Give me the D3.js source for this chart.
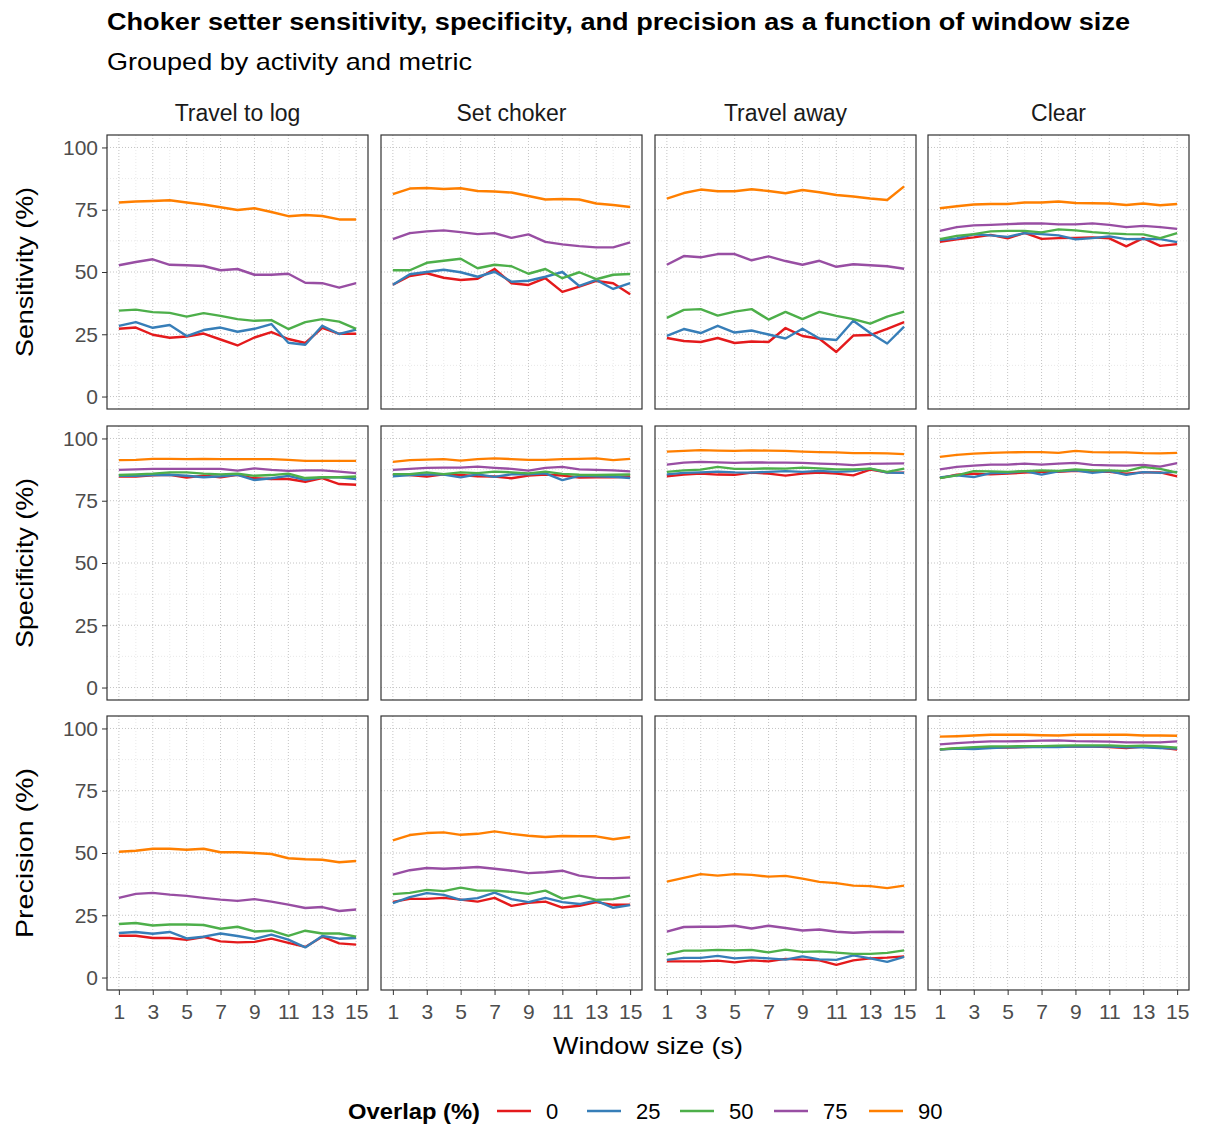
<!DOCTYPE html>
<html>
<head>
<meta charset="utf-8">
<script src="https://cdn.jsdelivr.net/npm/d3@7"></script>
<style>
  body { margin: 0; background: #fff; }
  text { font-family: "Liberation Sans", Arial, sans-serif; }
</style>
</head>
<body>
<script>
// window sizes and groups
var windows = [1, 2, 3, 4, 5, 6, 7, 8, 9, 10, 11, 12, 13, 14, 15];
var overlaps = ["0", "25", "50", "75", "90"];
var colors = ["#E41A1C", "#377EB8", "#4DAF4A", "#984EA3", "#FF7F00"];
var activities = ["Travel to log", "Set choker", "Travel away", "Clear"];
var metrics = ["Sensitivity (%)", "Specificity (%)", "Precision (%)"];
var xTicks = [1, 3, 5, 7, 9, 11, 13, 15];
var yTicks = [0, 25, 50, 75, 100];

// one row per overlap (0, 25, 50, 75, 90)
var sensTravelToLog = [
  [27.2, 27.7, 24.8, 23.6, 24.1, 25.3, 22.9, 20.5, 23.7, 25.9, 23.1, 21.5, 27.6, 25.2, 25.2],
  [28.4, 29.9, 27.6, 28.7, 24.3, 26.7, 27.7, 26.0, 27.2, 29.1, 21.6, 20.8, 28.4, 25.1, 26.9],
  [34.5, 34.9, 33.9, 33.6, 32.1, 33.5, 32.4, 31.1, 30.4, 30.7, 27.1, 29.9, 31.1, 30.1, 27.2],
  [52.7, 54.0, 55.1, 52.9, 52.7, 52.4, 50.7, 51.2, 48.9, 48.9, 49.3, 45.7, 45.5, 43.7, 45.5],
  [77.9, 78.3, 78.5, 78.8, 77.9, 77.1, 76.0, 74.9, 75.6, 74.1, 72.4, 72.9, 72.5, 71.1, 71.1]
];
var sensSetChoker = [
  [44.9, 48.4, 49.5, 47.7, 46.8, 47.3, 51.2, 45.5, 44.8, 47.5, 42.0, 44.1, 46.4, 45.5, 41.1],
  [44.9, 49.1, 50.0, 50.9, 49.9, 48.1, 50.1, 46.1, 46.5, 48.1, 50.0, 44.4, 46.8, 43.2, 45.5],
  [50.7, 50.7, 53.7, 54.5, 55.3, 51.5, 52.9, 52.3, 49.3, 51.2, 47.5, 49.9, 47.1, 48.9, 49.2],
  [63.2, 65.6, 66.3, 66.7, 66.0, 65.2, 65.6, 63.7, 65.1, 62.1, 61.1, 60.4, 59.9, 59.9, 61.9],
  [81.3, 83.5, 83.7, 83.3, 83.6, 82.5, 82.3, 81.9, 80.5, 79.1, 79.3, 79.1, 77.5, 76.9, 76.1]
];
var sensTravelAway = [
  [23.5, 22.3, 21.9, 23.5, 21.5, 22.1, 21.9, 27.5, 24.3, 23.2, 17.9, 24.5, 24.7, 27.2, 29.9],
  [24.4, 27.1, 25.5, 28.4, 25.7, 26.5, 24.9, 23.3, 27.2, 23.3, 22.7, 30.4, 25.5, 21.3, 28.1],
  [31.6, 34.8, 35.1, 32.5, 34.1, 35.1, 30.9, 34.0, 31.1, 34.0, 32.4, 31.1, 29.3, 32.1, 34.1],
  [52.9, 56.4, 55.9, 57.2, 57.2, 54.7, 56.3, 54.4, 52.9, 54.5, 52.1, 53.1, 52.7, 52.3, 51.3],
  [79.5, 81.7, 83.1, 82.4, 82.4, 83.2, 82.5, 81.6, 82.9, 82.0, 80.9, 80.3, 79.5, 78.9, 84.4]
];
var sensClear = [
  [62.1, 63.1, 63.9, 64.9, 63.5, 65.7, 63.3, 63.6, 63.7, 63.9, 63.5, 60.3, 63.6, 60.5, 61.2],
  [62.8, 63.5, 65.1, 64.7, 64.1, 65.6, 65.2, 64.7, 63.1, 63.6, 64.3, 63.2, 63.3, 63.2, 62.0],
  [63.2, 64.5, 65.2, 66.3, 66.5, 66.5, 65.9, 67.1, 66.7, 66.0, 65.5, 65.2, 65.1, 63.6, 65.6],
  [66.5, 68.0, 68.7, 68.9, 69.2, 69.5, 69.5, 69.1, 69.1, 69.5, 68.9, 68.0, 68.5, 68.0, 67.3],
  [75.6, 76.4, 77.1, 77.3, 77.3, 77.9, 77.9, 78.3, 77.7, 77.6, 77.5, 76.9, 77.5, 76.8, 77.3]
];

var specTravelToLog = [
  [84.7, 84.7, 85.2, 85.4, 84.3, 85.1, 84.4, 85.4, 84.0, 83.7, 83.7, 82.6, 84.1, 81.7, 81.4],
  [85.0, 85.0, 85.3, 85.4, 85.0, 84.4, 84.8, 85.4, 83.3, 84.0, 85.0, 83.4, 84.4, 84.4, 83.7],
  [85.3, 85.6, 85.9, 86.4, 86.4, 85.9, 85.6, 85.9, 85.0, 85.3, 85.9, 84.1, 84.4, 84.4, 84.7],
  [87.4, 87.6, 87.8, 87.8, 87.8, 87.8, 87.8, 87.1, 88.0, 87.4, 87.0, 87.2, 87.2, 86.7, 86.1],
  [91.3, 91.4, 91.8, 91.8, 91.7, 91.8, 91.7, 91.7, 91.7, 91.7, 91.4, 91.0, 91.0, 91.0, 91.0]
];
var specSetChoker = [
  [85.5, 85.3, 84.7, 85.6, 85.3, 84.8, 84.7, 84.0, 85.1, 85.5, 85.1, 84.3, 84.4, 84.4, 84.7],
  [84.8, 85.3, 85.5, 85.5, 84.4, 85.6, 84.6, 85.6, 85.6, 86.0, 83.3, 85.0, 84.8, 84.6, 84.1],
  [85.7, 85.7, 86.4, 85.7, 86.4, 86.1, 86.7, 86.4, 86.0, 86.7, 85.8, 85.4, 85.3, 85.4, 85.5],
  [87.4, 87.8, 88.2, 88.3, 88.3, 88.7, 88.2, 87.8, 87.1, 88.2, 88.6, 87.6, 87.4, 87.2, 86.8],
  [90.6, 91.3, 91.5, 91.7, 91.1, 91.7, 92.0, 91.7, 91.4, 91.4, 91.7, 91.8, 92.0, 91.3, 91.8]
];
var specTravelAway = [
  [84.8, 85.5, 85.9, 85.5, 85.4, 86.3, 85.9, 85.1, 85.9, 86.3, 85.9, 85.2, 87.5, 86.4, 86.3],
  [85.6, 86.2, 86.4, 86.7, 86.4, 86.3, 86.6, 86.9, 86.6, 87.0, 86.6, 86.9, 87.9, 86.3, 86.2],
  [86.6, 87.2, 87.5, 88.6, 87.8, 87.8, 88.0, 87.9, 88.3, 88.0, 87.6, 87.6, 87.9, 86.6, 87.9],
  [89.5, 90.3, 90.6, 90.4, 90.2, 90.4, 90.3, 90.3, 90.2, 89.9, 89.7, 89.3, 89.8, 89.9, 90.0],
  [94.7, 95.0, 95.3, 95.1, 95.0, 95.2, 95.1, 95.0, 94.7, 94.5, 94.4, 94.1, 94.1, 94.0, 93.7]
];
var specClear = [
  [84.1, 85.5, 85.9, 85.6, 85.9, 86.3, 86.6, 86.6, 87.0, 86.7, 86.6, 85.9, 86.4, 86.4, 84.8],
  [84.3, 85.2, 84.5, 86.1, 86.2, 86.9, 85.5, 86.8, 87.2, 86.2, 86.9, 85.4, 86.5, 86.2, 86.6],
  [84.1, 85.2, 86.9, 86.8, 86.6, 86.9, 87.2, 87.0, 87.6, 87.2, 87.2, 86.9, 88.6, 87.8, 86.3],
  [87.6, 88.6, 89.1, 89.5, 89.5, 89.9, 89.5, 89.9, 90.2, 89.4, 89.2, 89.1, 89.4, 88.7, 90.1],
  [92.6, 93.4, 93.9, 94.2, 94.4, 94.5, 94.5, 94.2, 95.0, 94.5, 94.4, 94.4, 94.1, 94.0, 94.2]
];

var precTravelToLog = [
  [16.8, 16.8, 15.9, 15.9, 15.1, 16.3, 14.5, 14.1, 14.3, 15.6, 13.9, 12.3, 16.4, 13.7, 13.2],
  [17.9, 18.3, 17.6, 18.3, 15.7, 16.4, 17.7, 16.7, 15.5, 17.2, 15.2, 12.1, 16.7, 15.6, 15.9],
  [21.5, 21.9, 20.9, 21.3, 21.3, 21.1, 19.6, 20.4, 18.5, 18.8, 16.7, 18.8, 17.7, 17.7, 16.4],
  [32.0, 33.6, 34.0, 33.3, 32.8, 32.0, 31.3, 30.8, 31.5, 30.5, 29.3, 27.9, 28.3, 26.7, 27.3],
  [50.5, 50.9, 51.7, 51.7, 51.3, 51.7, 50.3, 50.3, 50.0, 49.6, 47.9, 47.5, 47.3, 46.3, 46.8]
];
var precSetChoker = [
  [30.4, 31.6, 31.6, 32.0, 31.3, 30.5, 32.0, 28.8, 30.0, 30.5, 28.1, 28.8, 30.3, 29.2, 29.2],
  [29.9, 32.3, 33.9, 33.2, 31.2, 31.9, 34.1, 31.5, 30.3, 32.0, 30.3, 29.5, 30.9, 28.0, 29.1],
  [33.5, 34.0, 35.2, 34.7, 36.1, 34.9, 34.9, 34.4, 33.6, 34.9, 31.7, 32.9, 31.2, 31.5, 32.9],
  [41.3, 43.1, 44.0, 43.7, 44.0, 44.4, 43.7, 42.9, 41.9, 42.3, 42.9, 40.9, 40.0, 39.9, 40.1],
  [55.1, 57.2, 58.0, 58.3, 57.3, 57.7, 58.7, 57.7, 56.9, 56.4, 56.8, 56.7, 56.7, 55.5, 56.4]
];
var precTravelAway = [
  [6.5, 6.5, 6.5, 6.8, 6.1, 6.9, 6.5, 7.5, 7.2, 6.9, 5.1, 6.9, 7.7, 8.0, 8.5],
  [7.1, 7.9, 7.9, 8.7, 7.7, 8.1, 7.7, 7.2, 8.5, 7.3, 7.1, 8.9, 7.7, 6.3, 8.3],
  [9.3, 10.8, 10.8, 11.1, 10.9, 11.1, 10.1, 11.2, 10.3, 10.5, 10.0, 9.5, 9.5, 9.9, 10.9],
  [18.4, 20.3, 20.4, 20.4, 20.8, 19.7, 20.8, 19.9, 18.9, 19.3, 18.4, 18.0, 18.3, 18.4, 18.3],
  [38.5, 40.0, 41.5, 40.9, 41.5, 41.2, 40.5, 40.8, 39.7, 38.4, 37.9, 36.9, 36.7, 35.9, 36.9]
];
var precClear = [
  [91.6, 92.0, 92.1, 92.4, 92.3, 92.5, 92.7, 92.7, 92.8, 92.7, 92.5, 92.1, 92.7, 92.3, 91.5],
  [91.5, 91.9, 91.7, 92.1, 92.4, 92.5, 92.5, 92.5, 92.8, 92.7, 92.7, 92.4, 92.4, 92.1, 91.9],
  [91.6, 92.1, 92.5, 92.8, 92.8, 92.9, 92.9, 93.1, 93.2, 93.2, 93.2, 92.9, 93.1, 92.8, 92.3],
  [93.6, 94.1, 94.5, 94.8, 94.8, 94.9, 95.1, 95.2, 94.9, 94.8, 94.7, 94.4, 94.4, 94.4, 94.8],
  [96.7, 96.9, 97.2, 97.5, 97.5, 97.5, 97.3, 97.2, 97.5, 97.5, 97.5, 97.5, 97.2, 97.2, 97.1]
];

var panelData = [
  [sensTravelToLog, sensSetChoker, sensTravelAway, sensClear],
  [specTravelToLog, specSetChoker, specTravelAway, specClear],
  [precTravelToLog, precSetChoker, precTravelAway, precClear]
];

var W = 1206, H = 1124;
var svg = d3.select("body").append("svg")
    .attr("width", W)
    .attr("height", H);

var colX = [107, 381, 655, 928],
    rowY = [135, 426, 716],
    pw = 261,
    ph = 274;

var x = d3.scaleLinear().domain([0.3, 15.7]).range([0, pw]);
var y = d3.scaleLinear().domain([-5, 105]).range([ph, 0]);

var line = d3.line()
    .x(function (d, i) { return x(windows[i]); })
    .y(function (d) { return y(d); });

// titles
svg.append("text")
    .attr("x", 107).attr("y", 30)
    .attr("font-size", 23).attr("font-weight", "bold").attr("fill", "#000")
    .attr("textLength", 1023).attr("lengthAdjust", "spacingAndGlyphs")
    .text("Choker setter sensitivity, specificity, and precision as a function of window size");
svg.append("text")
    .attr("x", 107).attr("y", 70)
    .attr("font-size", 24).attr("fill", "#000")
    .attr("textLength", 365).attr("lengthAdjust", "spacingAndGlyphs")
    .text("Grouped by activity and metric");

// strip labels
activities.forEach(function (a, c) {
    svg.append("text")
        .attr("x", colX[c] + pw / 2).attr("y", 121)
        .attr("text-anchor", "middle")
        .attr("font-size", 23).attr("fill", "#1A1A1A")
        .text(a);
});

var minorX = [2, 4, 6, 8, 10, 12, 14];
var minorY = [12.5, 37.5, 62.5, 87.5];

metrics.forEach(function (m, r) {
    activities.forEach(function (a, c) {
        var g = svg.append("g")
            .attr("transform", "translate(" + colX[c] + "," + rowY[r] + ")");

        g.selectAll(".minx").data(minorX).enter().append("line")
            .attr("x1", function (d) { return x(d); }).attr("x2", function (d) { return x(d); })
            .attr("y1", 0).attr("y2", ph)
            .attr("stroke", "#E3E3E3").attr("stroke-width", 0.8).attr("stroke-dasharray", "1,2");
        g.selectAll(".miny").data(minorY).enter().append("line")
            .attr("y1", function (d) { return y(d); }).attr("y2", function (d) { return y(d); })
            .attr("x1", 0).attr("x2", pw)
            .attr("stroke", "#E3E3E3").attr("stroke-width", 0.8).attr("stroke-dasharray", "1,2");
        g.selectAll(".majx").data(xTicks).enter().append("line")
            .attr("x1", function (d) { return x(d); }).attr("x2", function (d) { return x(d); })
            .attr("y1", 0).attr("y2", ph)
            .attr("stroke", "#C4C4C4").attr("stroke-width", 1).attr("stroke-dasharray", "1,2");
        g.selectAll(".majy").data(yTicks).enter().append("line")
            .attr("y1", function (d) { return y(d); }).attr("y2", function (d) { return y(d); })
            .attr("x1", 0).attr("x2", pw)
            .attr("stroke", "#C4C4C4").attr("stroke-width", 1).attr("stroke-dasharray", "1,2");

        panelData[r][c].forEach(function (vals, k) {
            g.append("path")
                .datum(vals)
                .attr("d", line)
                .attr("fill", "none")
                .attr("stroke", colors[k])
                .attr("stroke-width", 2.4)
                .attr("stroke-linejoin", "round");
        });

        g.append("rect")
            .attr("width", pw).attr("height", ph)
            .attr("fill", "none").attr("stroke", "#333").attr("stroke-width", 1.2);

        if (c === 0) {
            var ya = g.append("g").call(d3.axisLeft(y).tickValues(yTicks).tickSize(5).tickPadding(4));
            ya.select(".domain").remove();
            ya.selectAll("line").attr("stroke", "#333").attr("stroke-width", 1);
            ya.selectAll("text").attr("font-size", 21).attr("fill", "#4D4D4D")
                .attr("font-family", "Liberation Sans, Arial, sans-serif");
        }
        if (r === 2) {
            var xa = g.append("g").attr("transform", "translate(0," + ph + ")")
                .call(d3.axisBottom(x).tickValues(xTicks).tickSize(5).tickPadding(9));
            xa.select(".domain").remove();
            xa.selectAll("line").attr("stroke", "#333").attr("stroke-width", 1);
            xa.selectAll("text").attr("font-size", 21).attr("fill", "#4D4D4D")
                .attr("font-family", "Liberation Sans, Arial, sans-serif");
        }
    });

    svg.append("text")
        .attr("transform", "translate(33," + (rowY[r] + ph / 2) + ") rotate(-90)")
        .attr("text-anchor", "middle")
        .attr("font-size", 24).attr("fill", "#000")
        .attr("textLength", 170).attr("lengthAdjust", "spacingAndGlyphs")
        .text(m);
});

svg.append("text")
    .attr("x", (colX[0] + colX[3] + pw) / 2).attr("y", 1054)
    .attr("text-anchor", "middle")
    .attr("font-size", 24).attr("fill", "#000")
    .attr("textLength", 190).attr("lengthAdjust", "spacingAndGlyphs")
    .text("Window size (s)");

// legend
var lg = svg.append("g").attr("transform", "translate(0,1111)");
lg.append("text")
    .attr("x", 348).attr("y", 8)
    .attr("font-size", 22).attr("font-weight", "bold").attr("fill", "#000")
    .attr("textLength", 132).attr("lengthAdjust", "spacingAndGlyphs")
    .text("Overlap (%)");
var keyX = [497, 587, 680, 774, 869];
overlaps.forEach(function (o, k) {
    lg.append("line")
        .attr("x1", keyX[k]).attr("x2", keyX[k] + 34)
        .attr("y1", 0).attr("y2", 0)
        .attr("stroke", colors[k]).attr("stroke-width", 2.4);
    lg.append("text")
        .attr("x", keyX[k] + 49).attr("y", 8)
        .attr("font-size", 22).attr("fill", "#000")
        .text(o);
});
</script>
</body>
</html>
